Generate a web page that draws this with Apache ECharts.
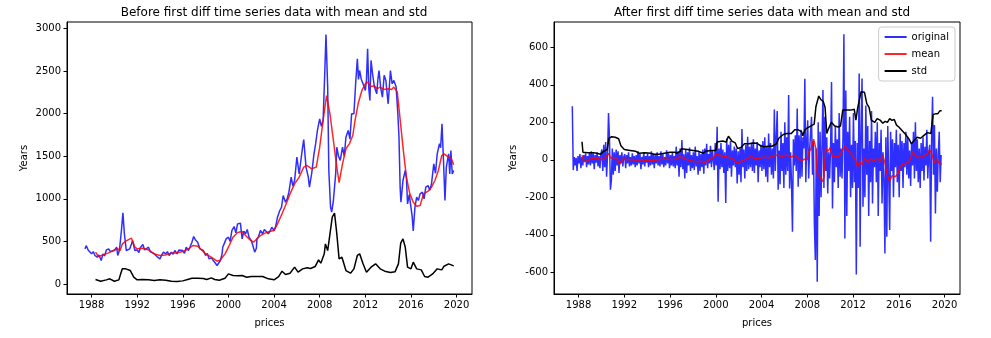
<!DOCTYPE html>
<html>
<head>
<meta charset="utf-8">
<script src="https://cdn.jsdelivr.net/npm/echarts@6/dist/echarts.min.js"></script>
<style>
  html, body { margin: 0; padding: 0; background: #fff; }
  #chart { width: 991px; height: 338px; }
</style>
</head>
<body>
<div id="chart"></div>
<script>
// ---- Tick values ----
const yearTicks = [1988, 1992, 1996, 2000, 2004, 2008, 2012, 2016, 2020];
const priceTicks = [0, 500, 1000, 1500, 2000, 2500, 3000];
const diffTicks = [-600, -400, -200, 0, 200, 400, 600];

// ---- Left panel: raw series [decimal year, value] ----
const priceOriginal = [
  [1987.42,413],[1987.55,450],[1987.7,400],[1987.85,420],[1988.0,354],[1988.15,380],[1988.3,335],[1988.5,315],
  [1988.65,340],[1988.85,276],[1989.0,354],[1989.15,330],[1989.3,400],[1989.5,413],[1989.65,380],[1989.8,393],
  [1990.0,393],[1990.2,432],[1990.3,335],[1990.45,400],[1990.55,393],[1990.62,628],[1990.75,835],[1990.88,590],
  [1991.05,393],[1991.2,380],[1991.35,413],[1991.5,470],[1991.6,510],[1991.8,393],[1992.0,400],[1992.15,370],
  [1992.3,432],[1992.5,463],[1992.65,400],[1992.8,413],[1993.0,432],[1993.15,380],[1993.3,393],[1993.5,354],
  [1993.65,370],[1993.8,315],[1994.0,295],[1994.15,340],[1994.3,374],[1994.5,354],[1994.65,380],[1994.8,335],
  [1995.0,374],[1995.15,350],[1995.3,393],[1995.5,354],[1995.65,400],[1995.8,393],[1996.0,393],[1996.15,360],
  [1996.3,432],[1996.5,393],[1996.65,440],[1996.8,491],[1996.95,558],[1997.1,520],[1997.3,491],[1997.5,413],
  [1997.65,420],[1997.8,393],[1998.0,335],[1998.15,360],[1998.3,295],[1998.5,307],[1998.65,280],[1998.8,256],
  [1999.0,217],[1999.1,198],[1999.3,276],[1999.45,360],[1999.5,432],[1999.65,480],[1999.8,530],[2000.0,550],
  [2000.15,500],[2000.3,628],[2000.5,675],[2000.65,600],[2000.8,706],[2000.95,725],[2001.05,714],[2001.2,530],
  [2001.35,620],[2001.5,590],[2001.65,640],[2001.8,550],[2002.0,510],[2002.15,450],[2002.3,374],[2002.45,420],
  [2002.5,530],[2002.65,560],[2002.8,628],[2003.0,590],[2003.15,640],[2003.3,647],[2003.5,590],[2003.65,620],
  [2003.8,667],[2004.0,628],[2004.15,680],[2004.3,785],[2004.5,863],[2004.65,900],[2004.8,1039],[2005.0,961],
  [2005.15,1000],[2005.3,1078],[2005.5,1254],[2005.65,1150],[2005.8,1215],[2006.0,1489],[2006.2,1293],[2006.35,1450],
  [2006.5,1606],[2006.6,1696],[2006.8,1372],[2007.0,1254],[2007.1,1137],[2007.3,1300],[2007.5,1528],[2007.65,1650],
  [2007.8,1802],[2008.0,1939],[2008.15,1850],[2008.3,1920],[2008.45,2500],[2008.55,2929],[2008.7,2311],[2008.8,1332],
  [2008.95,902],[2009.05,843],[2009.2,980],[2009.4,1293],[2009.5,1606],[2009.65,1500],[2009.8,1450],[2010.0,1606],
  [2010.15,1500],[2010.3,1723],[2010.5,1802],[2010.65,1700],[2010.8,1998],[2011.0,1998],[2011.15,2350],[2011.3,2643],
  [2011.4,2400],[2011.5,2506],[2011.65,2400],[2011.8,2350],[2012.0,2272],[2012.1,2400],[2012.2,2761],[2012.3,2300],
  [2012.4,2154],[2012.5,2624],[2012.65,2450],[2012.8,2311],[2013.0,2232],[2013.1,2400],[2013.2,2506],[2013.35,2300],
  [2013.5,2193],[2013.65,2450],[2013.8,2389],[2014.0,2115],[2014.1,2300],[2014.2,2506],[2014.35,2350],[2014.5,2389],
  [2014.7,2311],[2014.85,2000],[2014.95,1723],[2015.05,1137],[2015.12,961],[2015.3,1215],[2015.5,1332],[2015.6,1250],
  [2015.7,941],[2015.85,1050],[2016.0,1058],[2016.1,800],[2016.2,622],[2016.35,902],[2016.5,1019],[2016.65,980],
  [2016.8,1058],[2017.0,1078],[2017.15,1000],[2017.3,1137],[2017.5,1156],[2017.65,1100],[2017.8,1176],[2018.0,1411],
  [2018.15,1300],[2018.3,1528],[2018.5,1646],[2018.6,1600],[2018.72,1880],[2018.85,1450],[2018.98,980],[2019.1,1372],
  [2019.3,1528],[2019.4,1293],[2019.5,1567],[2019.62,1293],[2019.75,1332]
];

const priceMean = [
  [1988.35,374],[1988.6,323],[1989.0,342],[1989.5,366],[1990.0,400],[1990.3,413],[1990.5,393],[1990.7,471],
  [1991.0,503],[1991.5,538],[1991.8,432],[1992.0,413],[1992.5,420],[1993.0,400],[1993.5,354],[1994.0,335],
  [1994.5,342],[1995.0,362],[1995.5,366],[1996.0,381],[1996.5,413],[1996.9,452],[1997.3,444],[1997.7,393],
  [1998.0,354],[1998.5,315],[1999.0,268],[1999.3,284],[1999.7,354],[2000.0,432],[2000.4,550],[2000.8,605],
  [2001.2,617],[2001.5,569],[2001.9,518],[2002.2,491],[2002.5,530],[2002.8,569],[2003.2,597],[2003.6,617],
  [2004.0,628],[2004.3,706],[2004.7,824],[2005.0,922],[2005.4,1058],[2005.8,1176],[2006.2,1254],[2006.6,1372],
  [2006.9,1391],[2007.3,1352],[2007.7,1372],[2008.0,1606],[2008.3,1920],[2008.6,2210],[2008.9,1998],[2009.2,1684],
  [2009.5,1372],[2009.7,1190],[2010.0,1411],[2010.3,1587],[2010.6,1645],[2010.9,1743],[2011.1,1920],[2011.4,2134],
  [2011.7,2272],[2012.0,2350],[2012.2,2369],[2012.5,2318],[2012.8,2326],[2013.0,2291],[2013.3,2311],[2013.6,2283],
  [2014.0,2291],[2014.3,2283],[2014.5,2311],[2014.8,2252],[2015.0,1998],[2015.3,1606],[2015.6,1254],[2015.9,1058],
  [2016.2,961],[2016.5,914],[2016.8,922],[2017.1,1058],[2017.5,1090],[2017.8,1137],[2018.1,1215],[2018.4,1332],
  [2018.7,1508],[2018.9,1528],[2019.2,1497],[2019.5,1481],[2019.75,1399]
];

const priceStd = [
  [1988.35,53],[1988.8,33],[1989.3,49],[1989.6,61],[1990.0,33],[1990.4,49],[1990.55,119],[1990.7,178],
  [1991.0,178],[1991.4,158],[1991.7,80],[1992.0,49],[1992.5,53],[1993.0,49],[1993.5,41],[1994.0,49],
  [1994.5,45],[1995.0,33],[1995.5,29],[1996.0,37],[1996.5,57],[1996.8,68],[1997.3,68],[1997.8,65],
  [1998.1,53],[1998.5,72],[1998.8,53],[1999.2,45],[1999.7,68],[2000.0,119],[2000.4,100],[2000.8,96],
  [2001.2,100],[2001.6,80],[2002.0,88],[2002.5,88],[2003.0,88],[2003.5,61],[2004.0,49],[2004.4,88],
  [2004.7,151],[2005.0,111],[2005.4,127],[2005.8,198],[2006.1,139],[2006.5,178],[2006.9,190],[2007.2,182],
  [2007.6,205],[2007.9,284],[2008.1,245],[2008.4,354],[2008.5,471],[2008.7,393],[2008.9,589],[2009.1,785],
  [2009.3,832],[2009.5,589],[2009.7,295],[2009.95,315],[2010.3,158],[2010.7,127],[2011.0,178],[2011.3,335],
  [2011.5,354],[2011.8,237],[2012.1,139],[2012.5,198],[2012.9,237],[2013.3,178],[2013.7,151],[2014.2,135],
  [2014.6,143],[2014.9,237],[2015.1,479],[2015.3,530],[2015.5,432],[2015.7,198],[2016.0,178],[2016.2,256],
  [2016.5,178],[2016.9,166],[2017.2,88],[2017.5,80],[2017.9,119],[2018.3,178],[2018.7,166],[2018.9,209],
  [2019.3,237],[2019.75,213]
];

// ---- Right panel: differenced series, one value per month from 1987.45 ----
const diffStart = 1987.45;
const diffStep = 1 / 12;
const diffValues = [
  285, -55, 15, -30, 10, -60, 20,
  -20, 30, -45, 15, -30, 25, -10, 35, -40, 20, -25, 40,
  -30, 45, -20, 35, -50, 25, -15, 40, -35, 20, -45, 30,
  55, -60, 80, -40, 95, -90, 30, 250, 120, -160, -110, 60,
  -80, 40, -60, 55, -30, 45, -70, 25, -20, 40, -35, 15,
  30, -45, 25, -20, 40, -35, 15, -30, 35, -25, 20, -40,
  25, -30, 45, -20, 30, -50, 15, -25, 40, -35, 20, -15,
  35, -40, 20, -30, 45, -25, 30, -45, 25, -20, 40, -30,
  20, -35, 45, -25, 30, -40, 15, -30, 50, -20, 35, -45,
  25, -30, 40, -35, 20, -45, 70, -30, 45, -90, 60, -40,
  105, -50, 30, -100, 55, -70, 40, -30, 65, -60, 25, -45,
  40, -55, 70, -35, 20, -80, 45, -60, 30, -40, 55, -75,
  60, -30, 85, -45, 30, -20, 75, -40, 50, 40, -55, 90,
  -30, 176, -224, 60, -50, 90, -40, 55, -70, 40, -230, 114,
  -60, 80, -45, 100, -90, 50, -30, 70, -40, 60, -126, 45,
  -80, 60, -120, 164, -40, 55, -100, 80, -60, 123, -50, 70,
  -40, 90, -60, 110, -70, 60, -30, 95, -120, 50, -40, 80,
  -60, 100, -50, 120, -90, 70, -120, 140, -40, 90, -80, 60,
  -100, 268, -60, 120, 260, -160, 50, -130, 150, -60, 90, -150,
  200, -80, 120, -60, 345, -153, 40, -120, -384, 110, -30, 131,
  -60, 274, -144, 131, -100, 160, -90, 120, 60, 432, -120, 100,
  211, -100, 50, 140, 229, -80, 100, -340, -535, 60, -650, 200,
  -300, 150, -200, 60, 372, -150, 230, -60, 120, -180, 40, -100,
  60, 415, -260, 90, -120, 180, -40, 110, -150, 250, -90, 60,
  -100, 120, 670, -420, 370, -300, 150, -60, 230, -200, 80, -150,
  250, -120, 100, -612, 90, -150, 460, -464, 150, 434, -250, 60,
  -200, 290, -80, 180, -300, 100, -120, 260, -233, 60, -40, 150,
  -120, 200, -300, 90, -60, 160, -233, 40, -100, -500, 120, -410,
  180, -90, -375, 150, -60, 110, -200, 90, -40, 160, -120, 80,
  -200, 140, -60, 100, -150, 90, -40, 150, -80, 120, -100, 50,
  -140, 90, -30, 150, -100, 200, -60, 110, -120, 60, -150, 90,
  -60, 120, -110, 70, -30, 160, -100, 40, 80, -437, 100, 336,
  -80, 185, -286, 60, -170, 30, 150, -120, 25
];

const diffMean = [
  [1988.3,25],[1988.45,-10],[1988.8,-5],[1989.2,10],[1989.6,8],[1990.0,0],[1990.3,5],[1990.6,34],
  [1990.8,10],[1991.0,12],[1991.3,10],[1991.6,-23],[1991.9,5],[1992.3,0],[1992.7,2],[1993.0,-2],
  [1993.5,0],[1994.0,-5],[1994.5,-4],[1995.0,0],[1995.5,4],[1996.0,2],[1996.5,3],[1996.9,16],
  [1997.3,5],[1997.8,-5],[1998.3,-10],[1998.8,-8],[1999.0,-15],[1999.3,-5],[1999.7,10],[2000.1,30],
  [2000.5,20],[2001.0,15],[2001.5,5],[2001.9,-20],[2002.3,-5],[2002.7,5],[2003.1,18],[2003.4,5],
  [2003.8,8],[2004.2,15],[2004.6,10],[2005.0,20],[2005.4,25],[2005.8,18],[2006.2,25],[2006.6,15],
  [2006.9,25],[2007.2,10],[2007.5,-5],[2007.8,5],[2008.0,0],[2008.1,40],[2008.3,55],[2008.55,110],
  [2008.75,60],[2008.85,-73],[2009.1,-90],[2009.3,-117],[2009.45,-95],[2009.6,60],[2009.8,45],[2010.0,65],
  [2010.2,15],[2010.5,15],[2010.8,20],[2011.1,55],[2011.3,73],[2011.6,50],[2011.9,25],[2012.2,0],
  [2012.4,-37],[2012.6,-10],[2012.8,-25],[2013.0,10],[2013.3,-15],[2013.5,5],[2013.8,-5],[2014.1,5],
  [2014.4,-5],[2014.6,25],[2014.8,-20],[2015.0,-82],[2015.2,-114],[2015.4,-85],[2015.7,-90],[2015.9,-75],
  [2016.1,-40],[2016.3,-25],[2016.6,-20],[2016.9,-10],[2017.1,20],[2017.2,43],[2017.5,20],[2017.8,10],
  [2018.1,20],[2018.4,25],[2018.7,52],[2018.9,30],[2019.1,-20],[2019.3,5],[2019.5,-15],[2019.75,-25]
];

const diffStd = [
  [1988.3,96],[1988.38,40],[1988.8,38],[1989.3,37],[1989.6,35],[1989.9,30],[1990.2,45],[1990.5,55],
  [1990.65,114],[1990.9,123],[1991.2,120],[1991.5,112],[1991.7,75],[1992.0,55],[1992.5,50],[1993.0,45],
  [1993.3,35],[1993.8,38],[1994.3,35],[1994.6,30],[1995.0,30],[1995.5,35],[1996.0,40],[1996.4,40],
  [1996.6,35],[1996.9,45],[1997.0,59],[1997.5,55],[1998.0,50],[1998.5,45],[1998.9,35],[1999.1,45],
  [1999.6,50],[2000.0,50],[2000.1,95],[2000.6,100],[2000.9,95],[2001.1,126],[2001.4,100],[2001.7,90],
  [2001.9,60],[2002.2,65],[2002.5,85],[2002.9,85],[2003.2,90],[2003.6,88],[2003.9,75],[2004.2,70],
  [2004.6,72],[2004.9,72],[2005.3,85],[2005.5,115],[2005.9,135],[2006.2,140],[2006.6,140],[2006.9,160],
  [2007.2,160],[2007.5,150],[2007.6,128],[2007.8,160],[2008.0,170],[2008.3,180],[2008.6,190],[2008.75,283],
  [2009.0,340],[2009.2,320],[2009.4,310],[2009.55,280],[2009.7,140],[2009.85,165],[2010.1,200],[2010.4,180],
  [2010.7,175],[2010.9,180],[2011.1,265],[2011.4,265],[2011.8,265],[2012.1,270],[2012.25,212],[2012.4,275],
  [2012.7,363],[2013.0,360],[2013.2,300],[2013.4,280],[2013.6,212],[2013.9,200],[2014.1,220],[2014.4,210],
  [2014.6,195],[2014.8,205],[2015.0,200],[2015.2,220],[2015.4,210],[2015.6,215],[2015.8,185],[2016.0,175],
  [2016.3,155],[2016.6,135],[2016.9,110],[2017.1,85],[2017.3,100],[2017.6,120],[2017.9,115],[2018.2,130],
  [2018.5,145],[2018.8,140],[2019.0,242],[2019.2,245],[2019.4,245],[2019.6,262],[2019.75,262]
];

const diffOriginal = diffValues.map((v, i) => [diffStart + i * diffStep, v]);

// ---- Styling ----
const FONT = 'DejaVu Sans';
const BLUE = 'rgba(0,0,255,0.82)';
const RED = 'rgba(255,0,0,0.85)';
const BLACK = '#000';
const plain = v => String(v);

function xAxisFor(gridIndex) {
  return {
    type: 'value', gridIndex, min: 1985.85, max: 2021.35,
    name: 'prices', nameLocation: 'middle', nameGap: 24,
    nameTextStyle: { fontFamily: FONT, fontSize: 10, color: '#000' },
    axisLine: { show: true, onZero: false, lineStyle: { color: '#000', width: 1 } },
    axisTick: { show: true, length: 3.5, lineStyle: { color: '#000' }, customValues: yearTicks },
    axisLabel: { fontFamily: FONT, fontSize: 10, color: '#000', margin: 6, customValues: yearTicks, formatter: plain },
    splitLine: { show: false }
  };
}

function yAxisFor(gridIndex, min, max, ticks, gap) {
  return {
    type: 'value', gridIndex, min, max,
    name: 'Years', nameLocation: 'middle', nameGap: gap,
    nameTextStyle: { fontFamily: FONT, fontSize: 10, color: '#000' },
    axisLine: { show: true, onZero: false, lineStyle: { color: '#000', width: 1 } },
    axisTick: { show: true, length: 3.5, lineStyle: { color: '#000' }, customValues: ticks },
    axisLabel: { fontFamily: FONT, fontSize: 10, color: '#000', margin: 6, customValues: ticks, formatter: plain },
    splitLine: { show: false }
  };
}

function lineSeries(name, data, color, axisIndex) {
  return {
    name, type: 'line', data,
    xAxisIndex: axisIndex, yAxisIndex: axisIndex,
    showSymbol: false, symbol: 'none', smooth: false,
    lineStyle: { color, width: 1.5 },
    itemStyle: { color },
    animation: false
  };
}

const chart = echarts.init(document.getElementById('chart'), null, { renderer: 'canvas' });
chart.setOption({
  backgroundColor: '#fff',
  animation: false,
  textStyle: { fontFamily: FONT },
  title: [
    { text: 'Before first diff time series data with mean and std', left: 269, top: 2, textAlign: 'center',
      textStyle: { fontFamily: FONT, fontSize: 12, fontWeight: 'normal', color: '#000' } },
    { text: 'After first diff time series data with mean and std', left: 757, top: 2, textAlign: 'center',
      textStyle: { fontFamily: FONT, fontSize: 12, fontWeight: 'normal', color: '#000' } }
  ],
  legend: {
    data: ['original', 'mean', 'std'],
    orient: 'vertical', right: 36, top: 27,
    icon: 'rect', itemWidth: 22, itemHeight: 2, itemGap: 7,
    textStyle: { fontFamily: FONT, fontSize: 10, color: '#000' },
    borderColor: '#ccc', borderWidth: 1, borderRadius: 3,
    padding: [5, 6, 5, 6], backgroundColor: 'rgba(255,255,255,0.8)',
    selectedMode: false
  },
  grid: [
    { left: 67, top: 22, width: 405, height: 272, show: true, borderColor: '#000', borderWidth: 1, backgroundColor: 'transparent' },
    { left: 554, top: 22, width: 406, height: 272, show: true, borderColor: '#000', borderWidth: 1, backgroundColor: 'transparent' }
  ],
  xAxis: [xAxisFor(0), xAxisFor(1)],
  yAxis: [
    yAxisFor(0, -117, 3075, priceTicks, 38),
    yAxisFor(1, -716, 735, diffTicks, 36)
  ],
  series: [
    lineSeries('original', priceOriginal, BLUE, 0),
    lineSeries('mean', priceMean, RED, 0),
    lineSeries('std', priceStd, BLACK, 0),
    lineSeries('original', diffOriginal, BLUE, 1),
    lineSeries('mean', diffMean, RED, 1),
    lineSeries('std', diffStd, BLACK, 1)
  ]
});
</script>
</body>
</html>
